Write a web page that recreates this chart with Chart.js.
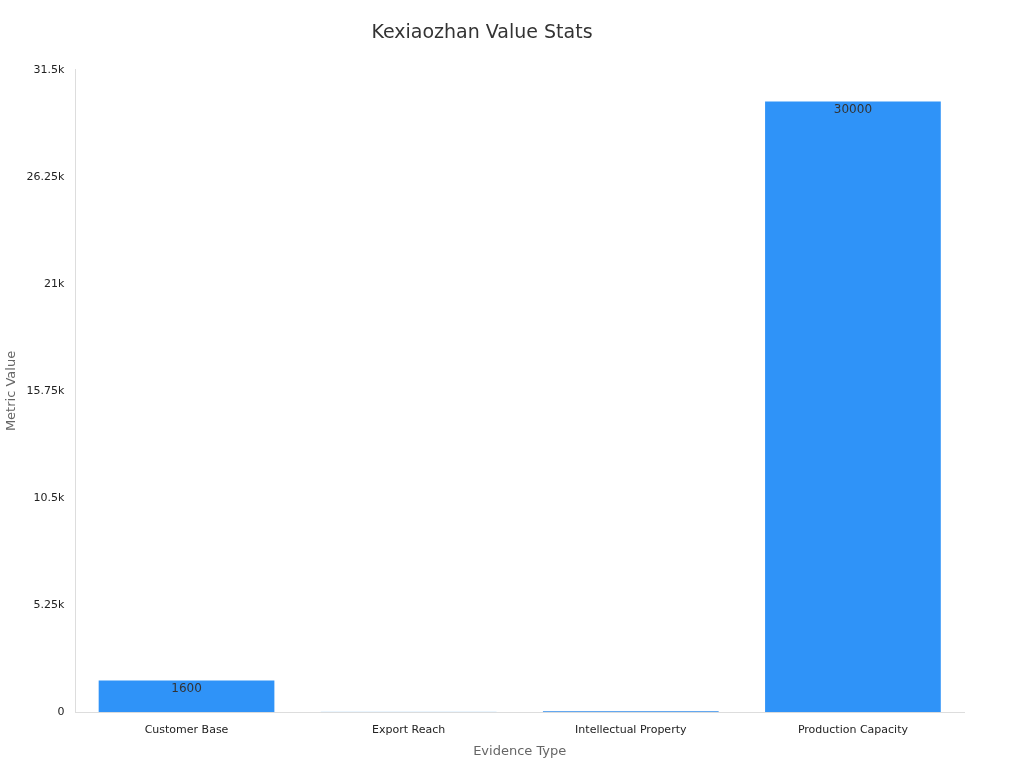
<!DOCTYPE html><html><head><script src="https://cdn.jsdelivr.net/npm/chart.js@4"></script>
<style>body{margin:0;background:#fff}#w{width:1024px;height:768px}</style></head><body><div id="w"><canvas id="c"></canvas></div>
<script>
const categories=["Customer Base","Export Reach","Intellectual Property","Production Capacity"];
const values=[1600,50,110,30000];
const colors=["#2F93F8","#90CAF9","#64A8F0","#2F93F8"];
const labelPlugin={id:'lbl',afterDatasetsDraw(ch){const ctx=ch.ctx;const m=ch.getDatasetMeta(0);ctx.save();ctx.font='12px "DejaVu Sans"';ctx.fillStyle='#333';ctx.textAlign='center';ctx.textBaseline='top';
m.data.forEach((b,i)=>{if(b.base-b.y>15)ctx.fillText(String(values[i]),b.x,b.y+3);});ctx.restore();}};
new Chart(document.getElementById('c'),{type:'bar',data:{labels:categories,datasets:[{data:values,backgroundColor:colors,borderColor:'#ffffff',borderWidth:1,categoryPercentage:0.8,barPercentage:1}]},
options:{responsive:true,maintainAspectRatio:false,animation:false,layout:{padding:{left:0,right:60,top:10,bottom:5}},
plugins:{legend:{display:false},tooltip:{enabled:false},title:{display:true,text:'Kexiaozhan Value Stats',color:'#333',font:{family:'DejaVu Sans',size:19,weight:'normal'},padding:{top:12,bottom:25}}},
scales:{x:{grid:{display:false},border:{color:'#ddd'},ticks:{color:'#222',font:{family:'DejaVu Sans',size:11}},title:{display:true,text:'Evidence Type',color:'#666',font:{family:'DejaVu Sans',size:13}}},
y:{min:0,max:31500,grid:{display:false,drawTicks:true},border:{color:'#ddd'},ticks:{stepSize:5000,color:'#222',font:{family:'DejaVu Sans',size:11},callback:v=>v===0?'0':(v/1000)+'k'},title:{display:true,text:'Metric Value',color:'#666',font:{family:'DejaVu Sans',size:13}}}}},plugins:[labelPlugin]});
</script></body></html>
